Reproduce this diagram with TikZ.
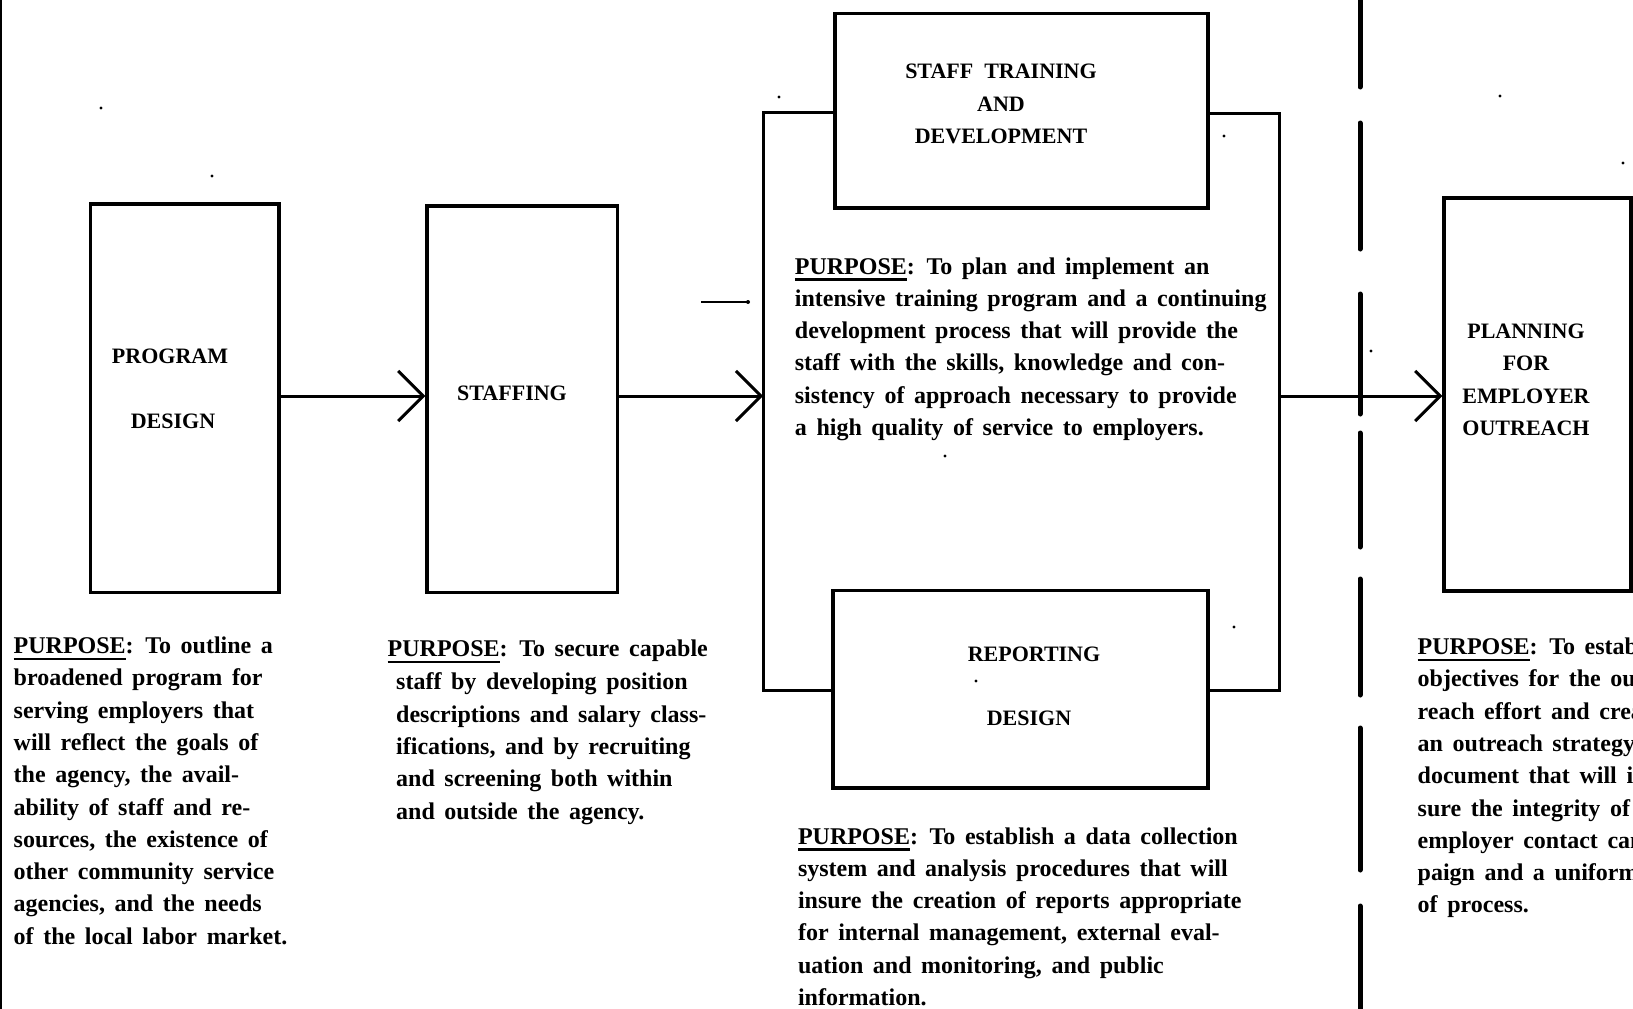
\documentclass[tikz,border=0pt]{standalone}
\usepackage{fontspec}
\setmainfont{Liberation Serif}
\newfontfamily\ptfont{Liberation Serif}[WordSpace=1.6]
\usetikzlibrary{arrows.meta}
\newcommand\purp{\setbox0\hbox{PURPOSE}\rlap{\rule[-6.5pt]{\wd0}{2.2pt}}\box0:}
\tikzset{
  box/.style={draw, line width=3.5pt, inner sep=0pt},
  lab/.style={font=\bfseries\fontsize{22}{32.5}\selectfont, align=center, inner sep=0pt},
  ptxt/.style={font=\ptfont\bfseries\fontsize{24}{32.3}\selectfont, align=left, inner sep=0pt, anchor=base west},
  flow/.style={line width=3pt, -{Straight Barb[length=25pt,width=50pt,line width=3pt]}},
  framel/.style={line width=3pt},
  sep/.style={line width=5pt, line cap=round},
  speck/.style={fill=black},
}
\begin{document}
\begin{tikzpicture}[x=1pt,y=-1pt]
\useasboundingbox (0,0) rectangle (1633,1009);
\begin{scope}
\clip (0,0) rectangle (1633,1009);
% left edge line
\draw[line width=1.5pt] (1,0) -- (1,1009);
% boxes
\node[box, minimum width=188.4pt, minimum height=388.6pt] (pd) at (184.8,398.3) {};
\node[box, minimum width=190.6pt, minimum height=386.6pt] (st) at (522.3,399.3) {};
\node[box, minimum width=373pt, minimum height=194.5pt] (std) at (1021.5,110.75) {};
\node[box, minimum width=375pt, minimum height=197.5pt] (rd) at (1020.5,689.25) {};
\node[box, minimum width=187pt, minimum height=393pt] (peo) at (1537.5,394.5) {};
% labels
\node[lab] (pdl1) at (170,356) {PROGRAM};
\node[lab] (pdl2) at (173,421) {DESIGN};
\node[lab] (stl) at (512,393) {STAFFING};
\node[lab] (stdl) at (1001,104) {STAFF\ \ TRAINING\\AND\\DEVELOPMENT};
\node[lab] (rdl1) at (1034,654) {REPORTING};
\node[lab] (rdl2) at (1029,718) {DESIGN};
\node[lab] (peol) at (1526,380) {PLANNING\\FOR\\EMPLOYER\\OUTREACH};
% frame
\coordinate (ay) at (0,396);
\coordinate (ftl) at (763,112.5);
\coordinate (fbl) at (763,690.5);
\coordinate (ftr) at (1279,113);
\coordinate (fbr) at (1279,690.5);
\coordinate (fl) at (763,396);
\coordinate (fr) at (1279,396);
\draw[framel] (std.west |- ftl) -- (ftl) -- (fbl) -- (rd.west |- fbl);
\draw[framel] (std.east |- ftr) -- (ftr) -- (fbr) -- (rd.east |- fbr);
% separator
\draw[sep] (1360,0) -- (1360,87);
\draw[sep] (1360,123) -- (1360,249);
\draw[sep] (1360,294) -- (1360,414);
\draw[sep] (1360,433) -- (1360,547);
\draw[sep] (1360,579) -- (1360,695);
\draw[sep] (1360,728) -- (1360,870);
\draw[sep] (1360,906) -- (1360,1009);
% arrows
\draw[flow] (pd.east |- ay) -- (st.west |- ay);
\draw[flow] (st.east |- ay) -- (fl);
\draw[flow] (fr) -- (peo.west |- ay);
% stub
\coordinate (stubA) at (701,302);
\coordinate (stubB) at (748,302);
\draw[line width=1.3pt] (stubA) -- (stubB);
\fill (stubB) circle (2pt);
% specks
\foreach \p in {(101,108),(212,176),(779,97),(1224,136),(945,456),(976,681),(1234,627),(1371,351),(1500,96),(1623,163)}
  \fill[speck] \p circle (1.6pt);
% purpose texts (base anchor = last line baseline)
\node[ptxt] (pdp) at (13.5,944.2) {\purp{} To outline a\\
broadened program for\\
serving employers that\\
will reflect the goals of\\
the agency, the avail-\\
ability of staff and re-\\
sources, the existence of\\
other community service\\
agencies, and the needs\\
of the local labor market.};
\node[ptxt] (stp1) at (387.5,656.5) {\purp{} To secure capable};
\node[ptxt] (stp2) at (396,819) {staff by developing position\\
descriptions and salary class-\\
ifications, and by recruiting\\
and screening both within\\
and outside the agency.};
\node[ptxt] (stdp) at (794.7,435.5) {\purp{} To plan and implement an\\
intensive training program and a continuing\\
development process that will provide the\\
staff with the skills, knowledge and con-\\
sistency of approach necessary to provide\\
a high quality of service to employers.};
\node[ptxt] (rdp) at (797.8,1005.5) {\purp{} To establish a data collection\\
system and analysis procedures that will\\
insure the creation of reports appropriate\\
for internal management, external eval-\\
uation and monitoring, and public\\
information.};
\node[ptxt] (peop) at (1417.5,912.9) {\purp{} To establish\\
objectives for the out-\\
reach effort and create\\
an outreach strategy\\
document that will in-\\
sure the integrity of the\\
employer contact cam-\\
paign and a uniformity\\
of process.};
\end{scope}
\end{tikzpicture}
\end{document}
